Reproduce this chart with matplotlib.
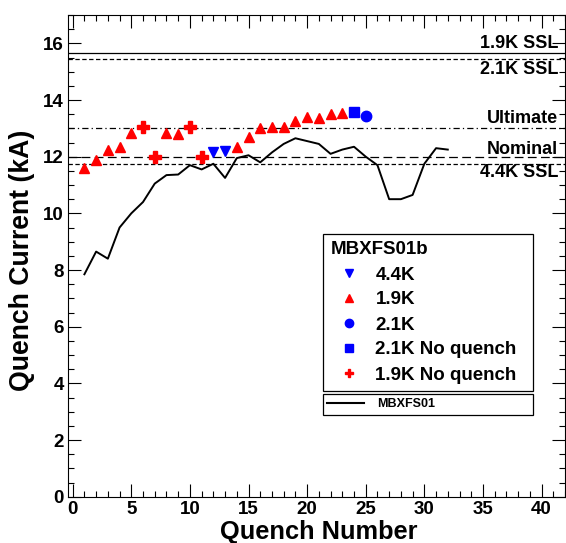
import numpy as np
import matplotlib
matplotlib.use("Agg")
import matplotlib.pyplot as plt
from matplotlib.lines import Line2D
from matplotlib.ticker import MultipleLocator

plt.rcParams['font.family'] = ['Liberation Sans', 'DejaVu Sans']
plt.rcParams['font.weight'] = 'bold'

# MBXFS01b quench data
q_44 = [12, 13]
i_44 = [12.15, 12.2]
q_19 = [1, 2, 3, 4, 5, 8, 9, 14, 15, 16, 17, 18, 19, 20, 21, 22, 23]
i_19 = [11.6, 11.9, 12.25, 12.35, 12.85, 12.85, 12.8, 12.35, 12.7, 13.0,
        13.05, 13.05, 13.25, 13.4, 13.35, 13.5, 13.55]
q_21 = [25]
i_21 = [13.45]
q_21nq = [24]
i_21nq = [13.58]
q_19nq = [6, 7, 10, 11]
i_19nq = [13.05, 12.0, 13.05, 12.0]

# MBXFS01 training curve
q_ref = list(range(1, 33))
i_ref = [7.85, 8.65, 8.4, 9.5, 10.0, 10.4, 11.05, 11.35, 11.37, 11.7, 11.55,
         11.75, 11.25, 11.95, 12.05, 11.8, 12.15, 12.45, 12.65, 12.55, 12.45,
         12.1, 12.25, 12.35, 12.0, 11.7, 10.5, 10.5, 10.65, 11.75, 12.3, 12.25]

# reference levels (kA)
level_names = ['1.9K SSL', '2.1K SSL', 'Ultimate', 'Nominal', '4.4K SSL']
level_values = [15.65, 15.45, 13.0, 12.0, 11.74]
level_styles = ['-', (0, (3.5, 2)), (0, (5, 2.5, 1, 2.5)), (0, (7, 3.5)), (0, (3.5, 2))]
level_offsets = [3.6, -10.6, 3.6, 2.2, -9.1]

fig = plt.figure(figsize=(5.66, 5.43), dpi=100)
ax = fig.add_axes([68 / 566, 1 - 496.7 / 543, 497 / 566, 481.7 / 543])

for name, val, ls, off in zip(level_names, level_values, level_styles, level_offsets):
    ax.axhline(val, color='black', lw=0.9, ls=ls, zorder=1)
    ax.annotate(name, xy=(41.4, val), xytext=(0, off), textcoords='offset points',
                ha='right', va='baseline', fontsize=13, fontweight='bold')

ax.plot(q_ref, i_ref, color='black', lw=1.4, zorder=2)

ms = 7.5
ax.plot(q_44, i_44, 'v', color='blue', ms=ms, ls='none', zorder=3)
ax.plot(q_19, i_19, '^', color='red', ms=ms, ls='none', zorder=3)
ax.plot(q_21, i_21, 'o', color='blue', ms=ms, ls='none', zorder=3)
ax.plot(q_21nq, i_21nq, 's', color='blue', ms=ms, ls='none', zorder=3)
ax.plot(q_19nq, i_19nq, 'P', color='red', ms=ms + 1, ls='none', zorder=3)

ax.set_xlim(-0.4, 42)
ax.set_ylim(0, 17)
ax.xaxis.set_major_locator(MultipleLocator(5))
ax.xaxis.set_minor_locator(MultipleLocator(1))
ax.yaxis.set_major_locator(MultipleLocator(2))
ax.yaxis.set_minor_locator(MultipleLocator(0.5))
ax.tick_params(which='both', direction='in', top=True, right=True, width=0.8)
ax.tick_params(which='major', length=9.5, labelsize=13.5, pad=3)
ax.tick_params(which='minor', length=4.5)
for lab in ax.get_xticklabels() + ax.get_yticklabels():
    lab.set_fontweight('bold')
for sp in ax.spines.values():
    sp.set_linewidth(0.8)

ax.set_xlabel('Quench Number', fontsize=18.3, fontweight='bold')
ax.set_ylabel('Quench Current (kA)', fontsize=19.2, fontweight='bold')
ax.xaxis.set_label_coords(0.505, -0.048)
ax.yaxis.set_label_coords(-0.066, 0.49)

handles = [
    Line2D([], [], marker='v', color='blue', ls='none', ms=ms),
    Line2D([], [], marker='^', color='red', ls='none', ms=ms),
    Line2D([], [], marker='o', color='blue', ls='none', ms=ms),
    Line2D([], [], marker='s', color='blue', ls='none', ms=ms),
    Line2D([], [], marker='P', color='red', ls='none', ms=ms),
]
labels = ['4.4K', '1.9K', '2.1K', '2.1K No quench', '1.9K No quench']
leg1 = ax.legend(handles, labels, title='MBXFS01b', loc='upper left',
                 bbox_to_anchor=(323 / 566, 1 - 234 / 543, 210 / 566, 0),
                 bbox_transform=fig.transFigure, mode='expand', borderaxespad=0,
                 fancybox=False, edgecolor='black', framealpha=1, alignment='left',
                 prop={'weight': 'bold', 'size': 13.5},
                 title_fontproperties={'weight': 'bold', 'size': 13.5},
                 handlelength=2.0, handletextpad=0.4, labelspacing=0.42,
                 markerscale=0.8, borderpad=0.4)
leg1.get_frame().set_linewidth(0.9)
ax.add_artist(leg1)

leg2 = ax.legend([Line2D([], [], color='black', lw=1.5)], ['MBXFS01'], loc='upper left',
                 bbox_to_anchor=(323 / 566, 1 - 394 / 543, 210 / 566, 0),
                 bbox_transform=fig.transFigure, mode='expand', borderaxespad=0,
                 fancybox=False, edgecolor='black', framealpha=1,
                 prop={'weight': 'bold', 'size': 9},
                 handlelength=2.9, handletextpad=1.05, borderpad=0.35)
leg2.get_frame().set_linewidth(0.9)

fig.savefig('out.png', dpi=100)
